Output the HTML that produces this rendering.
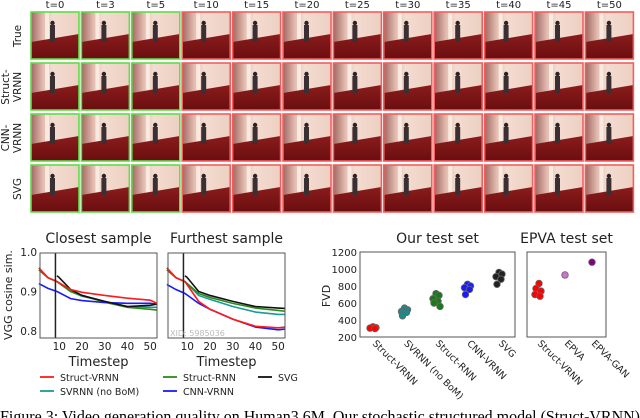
<!DOCTYPE html>
<html><head><meta charset="utf-8"><style>
html,body{margin:0;padding:0;background:#fff;}
svg{display:block;font-family:"DejaVu Sans","Liberation Sans",sans-serif;}
</style></head><body>
<svg id="fig" width="640" height="418" viewBox="0 0 640 418" xmlns="http://www.w3.org/2000/svg">
<defs>
<linearGradient id="wall" x1="0" y1="0" x2="1" y2="0">
<stop offset="0" stop-color="#a06862"/><stop offset="0.25" stop-color="#e4bcb0"/><stop offset="0.45" stop-color="#f4dcd0"/><stop offset="1" stop-color="#ecd0c2"/>
</linearGradient>
<linearGradient id="floor" x1="0" y1="0" x2="0" y2="1">
<stop offset="0" stop-color="#8a1c1c"/><stop offset="1" stop-color="#6a0e10"/>
</linearGradient>
</defs>
<g id="grid"></g>
<g id="charts"></g>
<text x="0" y="422" font-family="Liberation Serif, serif" font-size="17" textLength="640" lengthAdjust="spacingAndGlyphs" fill="#000">Figure 3: Video generation quality on Human3.6M. Our stochastic structured model (Struct-VRNN)</text>
</svg>
<script>
const NS="http://www.w3.org/2000/svg";
function el(tag,attrs,parent,txt){const e=document.createElementNS(NS,tag);for(const k in attrs)e.setAttribute(k,attrs[k]);if(txt!==undefined)e.textContent=txt;(parent||document.getElementById('charts')).appendChild(e);return e;}

// ---- frame grid ----
const timeLabels=["t=0","t=3","t=5","t=10","t=15","t=20","t=25","t=30","t=35","t=40","t=45","t=50"];
const rowLabels=[["True"],["Struct-","VRNN"],["CNN-","VRNN"],["SVG"]];
const grid=document.getElementById('grid');
const rowY=[12,63,114,165];
timeLabels.forEach((t,i)=>{
  const x=31+i*50.4;
  const lbl=el('text',{x:x+24,y:8,'font-size':10,'text-anchor':'middle',fill:'#222'},grid,t);
  
  
});
rowLabels.forEach((r,j)=>{
  const cy=rowY[j]+24;
  const g=el('g',{transform:`translate(${r.length>1?11:17},${cy}) rotate(-90)`},grid);
  
  
  r.forEach((s,k)=>el('text',{x:0,y:(k-(r.length-1)/2)*12+4,'font-size':10.5,'text-anchor':'middle',fill:'#222'},g,s));
  timeLabels.forEach((t,i)=>{
    const x=31+i*50.4,y=rowY[j];
    const f=el('g',{},grid);
    
    
    el('rect',{x:x,y:y,width:48,height:47,fill:'url(#wall)'},f);
    el('rect',{x:x+14,y:y,width:4,height:28,fill:'#fff8f0',opacity:0.7},f);
    el('polygon',{points:`${x},${y+30} ${x+48},${y+22} ${x+48},${y+47} ${x},${y+47}`,fill:'url(#floor)'},f);
    const px=x+22+(i%3)-1;
    el('rect',{x:px-2,y:y+13,width:5,height:17,fill:'#3a3034'},f);
    el('circle',{cx:px+0.5,cy:y+11,r:2.2,fill:'#2a2224'},f);
    el('rect',{x:x,y:y,width:48,height:47,fill:'none',stroke:i<3?'#5fdc4a':'#f06060','stroke-width':1.6},f);
  });
});

// ---- line charts ----
const tSteps=[1,5,9,15,20,30,40,50,53];
const svgSteps=[9,10,15,20,30,40,50,53];
const closeRed=[0.96,0.935,0.925,0.905,0.898,0.89,0.883,0.878,0.87];
const closeGreen=[0.955,0.935,0.925,0.9,0.89,0.873,0.86,0.855,0.853];
const closeTeal=[0.955,0.935,0.925,0.9,0.888,0.875,0.862,0.86,0.86];
const closeBlue=[0.92,0.908,0.9,0.882,0.877,0.872,0.87,0.87,0.868];
const closeSVG=[0.94,0.935,0.905,0.89,0.875,0.862,0.865,0.868];
const farRed=[0.96,0.935,0.925,0.875,0.855,0.83,0.812,0.808,0.81];
const farBlue=[0.918,0.905,0.895,0.87,0.855,0.83,0.81,0.803,0.805];
const farGreen=[0.955,0.935,0.925,0.895,0.885,0.87,0.858,0.852,0.85];
const farTeal=[0.955,0.935,0.925,0.89,0.88,0.862,0.848,0.842,0.842];
const farSVG=[0.94,0.935,0.9,0.89,0.875,0.862,0.858,0.857];
const yTicks=[1.0,0.9,0.8];
const xTicks=[10,20,30,40,50];
const seriesNames=["Struct-VRNN","SVRNN (no BoM)","Struct-RNN","CNN-VRNN","SVG"];
const seriesColors=["#ff1a1a","#1a9a9a","#2a8a1a","#1a1aff","#111"];

function lineChart(x0,title,data,name){
  const w=117,yTop=253,yBot=338;
  const sx=t=>x0+(t-1.5)/(53-1.5)*w;
  const sy=v=>yTop+(1.0-v)/(1.0-0.8)*(331-252)-1;
  const g=el('g',{});
  
  
  const tt=el('text',{x:x0+w/2,y:243,'font-size':14,'text-anchor':'middle',fill:'#222'},g,title);
  
  
  data.forEach(d=>{
    const pts=d.t.map((t,i)=>sx(t)+','+sy(d.v[i])).join(' ');
    const p=el('polyline',{points:pts,fill:'none',stroke:d.c,'stroke-width':1.6},g);
    
    
  });
  el('line',{x1:sx(8.3),x2:sx(8.3),y1:yTop,y2:yBot,stroke:'#222','stroke-width':1.5},g);
  el('rect',{x:x0,y:yTop,width:w,height:yBot-yTop,fill:'none',stroke:'#555','stroke-width':1},g);
  xTicks.forEach(t=>{const l=el('text',{x:sx(t),y:350,'font-size':10.5,'text-anchor':'middle',fill:'#222'},g,t);
    });
  const xl=el('text',{x:x0+w/2,y:366,'font-size':13,'text-anchor':'middle',fill:'#222'},g,'Timestep');
  
  
  return sy;
}
const sy1=lineChart(40,'Closest sample',[
 {t:tSteps,v:closeTeal,c:seriesColors[1]},{t:tSteps,v:closeGreen,c:seriesColors[2]},
 {t:tSteps,v:closeBlue,c:seriesColors[3]},{t:svgSteps,v:closeSVG,c:seriesColors[4]},
 {t:tSteps,v:closeRed,c:seriesColors[0]}],'closest-sample-chart');
lineChart(168,'Furthest sample',[
 {t:tSteps,v:farTeal,c:seriesColors[1]},{t:tSteps,v:farGreen,c:seriesColors[2]},
 {t:svgSteps,v:farSVG,c:seriesColors[4]},{t:tSteps,v:farBlue,c:seriesColors[3]},
 {t:tSteps,v:farRed,c:seriesColors[0]}],'furthest-sample-chart');
yTicks.forEach(v=>{const l=el('text',{x:37,y:sy1(v)+4,'font-size':10.5,'text-anchor':'end',fill:'#222'},undefined,v.toFixed(1));
  });
const yt=el('text',{x:0,y:0,'font-size':11,'text-anchor':'middle',fill:'#222',transform:'translate(12,295) rotate(-90)'},undefined,'VGG cosine sim.');


el('text',{x:170,y:336,'font-size':8,fill:'#bbb'},undefined,'XID: 5985036');

// legend
const legPos=[[40,380],[40,394],[163,380],[163,394],[258,380]];
seriesNames.forEach((n,i)=>{
  const [x,y]=legPos[i];
  const g=el('g',{});
  
  
  el('line',{x1:x,x2:x+14,y1:y-3,y2:y-3,stroke:seriesColors[i],'stroke-width':1.8},g);
  el('text',{x:x+20,y:y+1,'font-size':9.5,fill:'#222'},g,n);
});

// ---- FVD scatter ----
const fvdCats=["Struct-VRNN","SVRNN (no BoM)","Struct-RNN","CNN-VRNN","SVG"];
const fvdColors=["#ff0000","#1a8a8a","#1a7a1a","#1a1aff","#222"];
const fvdStructVRNN=[320,310,305,300];
const fvdSVRNN=[540,520,500,490,450];
const fvdStructRNN=[710,690,650,620,600,560];
const fvdCNN=[820,800,780,760,700];
const fvdSVG=[960,940,910,880,820];
const epvaCats=["Struct-VRNN","EPVA","EPVA-GAN"];
const epvaColors=["#ff0000","#d070d0","#800080"];
const epvaStructVRNN=[830,770,740,700,680];
const epvaEPVA=[930];
const epvaGAN=[1080];
const fvdTicks=[200,400,600,800,1000,1200];
const fvy=v=>337-(v-200)/1000*85;
function scatter(x0,w,cats,colors,vals,title,name,jitter,first,step){
  const g=el('g',{});
  
  
  const cx=i=>x0+first+i*step;
  el('rect',{x:x0,y:252,width:w,height:85,fill:'none',stroke:'#555','stroke-width':1},g);
  const tt=el('text',{x:x0+w/2,y:243,'font-size':14,'text-anchor':'middle',fill:'#222'},g,title);
  
  
  vals.forEach((arr,i)=>{
    arr.forEach((v,k)=>{
      const c=el('circle',{cx:cx(i)+(arr.length>1?jitter[k%jitter.length]:0),cy:fvy(v),r:3.3,fill:colors[i],stroke:'#666','stroke-width':0.8},g);
      
      
    });
    const l=el('text',{x:0,y:0,'font-size':9.5,fill:'#222',transform:`translate(${cx(i)-1},${344}) rotate(45)`},g,cats[i]);
    
    
  });
}
scatter(360,155,fvdCats,fvdColors,[fvdStructVRNN,fvdSVRNN,fvdStructRNN,fvdCNN,fvdSVG],'Our test set','fvd-our-test-set',[0,3,-3,2,-2,4],13,31.5);
scatter(527,79,epvaCats,epvaColors,[epvaStructVRNN,epvaEPVA,epvaGAN],'EPVA test set','fvd-epva-test-set',[1,-2,3,-3,2],11,27);
fvdTicks.forEach(v=>{const l=el('text',{x:357,y:fvy(v)+4,'font-size':10,'text-anchor':'end',fill:'#222'},undefined,v);
  });
const fy=el('text',{x:0,y:0,'font-size':11,'text-anchor':'middle',fill:'#222',transform:'translate(330,296) rotate(-90)'},undefined,'FVD');


</script>
</body></html>
